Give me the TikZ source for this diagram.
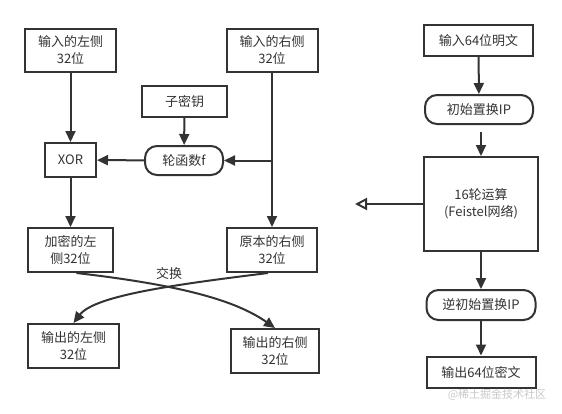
\documentclass[tikz,border=0pt]{standalone}
\usepackage{fontspec}
\setmainfont{Noto Sans CJK SC}
\usetikzlibrary{arrows.meta,positioning}
\definecolor{ink}{HTML}{333333}
\definecolor{mark}{HTML}{C8C8C8}
\tikzset{
  box/.style={draw=ink,line width=2pt,fill=white,text=ink,align=center,
              font=\fontsize{13}{17}\selectfont,inner sep=0pt},
  pill/.style={box,rounded corners=12pt},
  arrow/.style={-{Triangle[length=11pt,width=10pt]},line width=2pt,draw=ink},
  hollow/.style={-{Triangle[open,length=12pt,width=12pt]},line width=2pt,draw=ink}
}
\begin{document}
\begin{tikzpicture}[x=1pt,y=-1pt]
\useasboundingbox (0,0) rectangle (562,413);
% Feistel round
\node[box,minimum width=91pt,minimum height=43pt] (inL) at (70.5,50.5) {输入的左侧\\32位};
\node[box,minimum width=91pt,minimum height=43pt] (inR) at (272,50.5) {输入的右侧\\32位};
\node[box,minimum width=85pt,minimum height=31pt] (key) at (184.5,101.5) {子密钥};
\node[box,minimum width=51pt,minimum height=34pt] (xor) at (70.5,160) {XOR};
\node[pill,minimum width=78pt,minimum height=29pt] (fnc) at (184,160.5) {轮函数f};
\node[box,minimum width=85pt,minimum height=44pt] (encL) at (70.5,250) {加密的左\\侧32位};
\node[box,minimum width=90pt,minimum height=44pt] (origR) at (272,250) {原本的右侧\\32位};
\node[box,minimum width=91pt,minimum height=44pt] (outL) at (73.5,346) {输出的左侧\\32位};
\node[box,minimum width=88pt,minimum height=44pt] (outR) at (275,351) {输出的右侧\\32位};
\coordinate (split) at (272,160.5);
\draw[arrow] (inL)--(xor);
\draw[arrow] (key)--(fnc);
\draw[arrow] (inR)--(origR);
\draw[arrow] (split)--(fnc);
\draw[arrow] (fnc)--(xor);
\draw[arrow] (xor)--(encL);
\draw[arrow] (encL.south)++(6,0) .. controls (180,285) and (235,300) .. (outR.north);
\draw[arrow] (origR.south)++(-4,0) .. controls (180,284) and (95,295) .. (outL.north);
\node[text=ink,font=\fontsize{13}{15}\selectfont] (swap) at (169,274) {交换};
% DES overview
\node[box,minimum width=109pt,minimum height=31pt] (plain) at (478.5,40.5) {输入64位明文};
\node[pill,minimum width=108pt,minimum height=29pt] (ip) at (479,109.5) {初始置换IP};
\node[box,minimum width=114pt,minimum height=94pt] (rounds) at (481,204) {16轮运算\\(Feistel网络)};
\node[pill,minimum width=109pt,minimum height=30pt] (iip) at (481,305) {逆初始置换IP};
\node[box,minimum width=109pt,minimum height=31pt] (cipher) at (481,372) {输出64位密文};
\coordinate (zoomout) at (355,204);
\draw[arrow] (plain)--(ip);
\draw[arrow,shorten <=7pt] (ip.south -| rounds.north)--(rounds);
\draw[hollow] (rounds)--(zoomout);
\draw[arrow] (rounds)--(iip);
\draw[arrow] (iip)--(cipher);
\node[text=mark,font=\fontsize{11}{13}\selectfont] (wm) at (497,395) {@稀土掘金技术社区};
\end{tikzpicture}
\end{document}
